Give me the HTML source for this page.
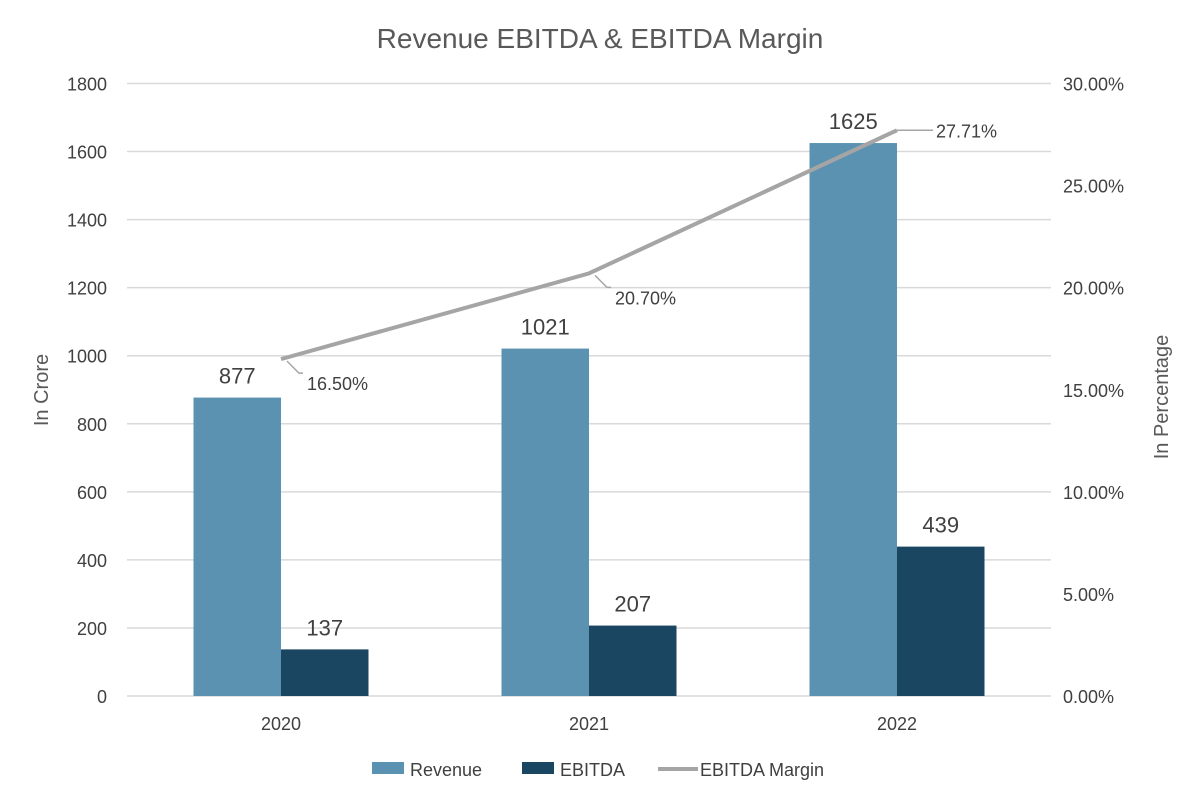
<!DOCTYPE html>
<html><head><meta charset="utf-8"><style>
body{margin:0;background:#fff;}
svg text{font-family:"Liberation Sans",sans-serif;}
</style></head><body>
<svg id="chart" width="1200" height="800" xmlns="http://www.w3.org/2000/svg">
<text x="600" y="48" text-anchor="middle" font-size="28" fill="#595959">Revenue EBITDA &amp; EBITDA Margin</text>
<g id="grid"></g><g id="bars"></g><g id="line"></g><g id="labels"></g>
<text transform="translate(48,390) rotate(-90)" text-anchor="middle" font-size="20" fill="#595959">In Crore</text>
<text transform="translate(1168,397) rotate(-90)" text-anchor="middle" font-size="20" fill="#595959">In Percentage</text>
<g font-size="18" fill="#404040">
<rect x="372" y="762" width="32" height="12" fill="#5b92b1"/>
<text x="410" y="776">Revenue</text>
<rect x="522" y="762" width="32" height="12" fill="#1a4661"/>
<text x="560" y="776">EBITDA</text>
<line x1="658" y1="769" x2="698" y2="769" stroke="#a5a5a5" stroke-width="4"/>
<text x="700" y="776">EBITDA Margin</text>
</g>
</svg>
<script>
const categories=["2020","2021","2022"];
const revenue=[877,1021,1625];
const ebitda=[137,207,439];
const margin=[16.50,20.70,27.71];
const leftTicks=[0,200,400,600,800,1000,1200,1400,1600,1800];
const rightTicks=[0,5,10,15,20,25,30];
const NS="http://www.w3.org/2000/svg";
const X0=127,X1=1051,Y0=696,Y1=83.5;
const y=v=>Y0-(v/1800)*(Y0-Y1);
const y2=v=>Y0-(v/30)*(Y0-Y1);
const cw=(X1-X0)/categories.length;
const cx=i=>X0+cw*(i+0.5);
const bw=87.5;
function mk(tag,attrs,parent,txt){const e=document.createElementNS(NS,tag);for(const k in attrs)e.setAttribute(k,attrs[k]);if(txt!==undefined)e.textContent=txt;document.getElementById(parent).appendChild(e);return e;}
leftTicks.forEach(t=>{
 const g=mk('line',{x1:X0,x2:X1,y1:y(t),y2:y(t),stroke:'#d9d9d9','stroke-width':1.5},'grid');
 
 
 const l=mk('text',{x:107,y:y(t)+7,'text-anchor':'end','font-size':18,fill:'#404040'},'grid',t);
 
 
});
rightTicks.forEach(t=>{
 const l=mk('text',{x:1063,y:y2(t)+7,'font-size':18,fill:'#404040'},'grid',t.toFixed(2)+'%');
 
 
});
categories.forEach((c,i)=>{
 const l=mk('text',{x:cx(i),y:730,'text-anchor':'middle','font-size':18,fill:'#404040'},'labels',c);
 
 
 const r=mk('rect',{x:cx(i)-bw,y:y(revenue[i]),width:bw,height:Y0-y(revenue[i]),fill:'#5b92b1'},'bars');
 
 
 const e=mk('rect',{x:cx(i),y:y(ebitda[i]),width:bw,height:Y0-y(ebitda[i]),fill:'#1a4661'},'bars');
 
 
 const rl=mk('text',{x:cx(i)-bw/2,y:y(revenue[i])-14,'text-anchor':'middle','font-size':22,fill:'#404040'},'labels',revenue[i]);
 
 
 const el=mk('text',{x:cx(i)+bw/2,y:y(ebitda[i])-14,'text-anchor':'middle','font-size':22,fill:'#404040'},'labels',ebitda[i]);
 
 
});
const pts=margin.map((m,i)=>cx(i)+','+y2(m)).join(' ');
const pl=mk('polyline',{points:pts,fill:'none',stroke:'#a5a5a5','stroke-width':4},'line');


margin.forEach((m,i)=>{
 const px=cx(i),py=y2(m);
 const last=i===margin.length-1;
 const lx=last?px+36:px+22, ly=last?py:py+25;
 const ld=mk('polyline',{points:last?`${px},${py} ${lx},${ly}`:`${px+6},${py+2} ${px+18},${py+14} ${px+22},${py+14}`,fill:'none',stroke:'#a5a5a5','stroke-width':1.5},'line');
 
 
 const t=mk('text',{x:last?lx+3:px+26,y:last?py+7:py+31,'font-size':18,fill:'#404040'},'labels',m.toFixed(2)+'%');
 
 
});
</script>
</body></html>
